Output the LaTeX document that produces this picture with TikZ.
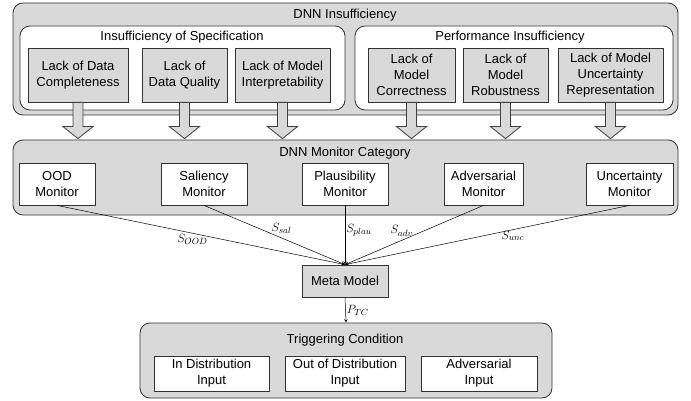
\documentclass[tikz,border=0pt]{standalone}
\usepackage{fontspec}
\setmainfont{Liberation Sans}
\usetikzlibrary{calc}

% block arrow from node #1 down to the top of node #2
\newcommand{\dnnarrow}[2]{%
  \draw[blkarr] ($(#1.south)+(-5,0)$) -- ($(#1.south |- #2.north)+(-5,-13)$) -- ++(-10,0)
    -- ($(#1.south |- #2.north)+(0,-1)$) -- ($(#1.south |- #2.north)+(15,-13)$) -- ++(-10,0)
    -- ($(#1.south)+(5,0)$) -- cycle;}

\tikzset{
  outerbox/.style={draw=black!80, fill=gray!30, rounded corners=10pt, line width=0.8pt, inner sep=0pt},
  innerbox/.style={draw=black!80, fill=white, rounded corners=10pt, line width=0.8pt, inner sep=0pt},
  graybox/.style={draw=black!80, fill=gray!30, line width=0.8pt, align=center, inner sep=0pt},
  whitebox/.style={draw=black!80, fill=white, line width=0.8pt, align=center, inner sep=0pt},
  title/.style={inner sep=1pt},
  blkarr/.style={draw=black!75, fill=gray!30, line width=0.8pt},
  sig/.style={->, >=stealth, line width=0.5pt},
  siglabel/.style={inner sep=1pt}
}

\begin{document}
\begin{tikzpicture}[x=1pt, y=-1pt, font=\fontsize{13}{16}\selectfont]
    \useasboundingbox (0,0) rectangle (691,401);

    % DNN Insufficiency
    \node[outerbox, minimum width=665pt, minimum height=112pt] (insuf) at (345.5,59) {};
    \node[title] (insuftitle) at (345,15) {DNN Insufficiency};
    \node[innerbox, minimum width=325pt, minimum height=84pt] (spec) at (182.5,68) {};
    \node[title] (spectitle) at (182,37) {Insufficiency of Specification};
    \node[innerbox, minimum width=318pt, minimum height=84pt] (perf) at (514,68) {};
    \node[title] (perftitle) at (510,37) {Performance Insufficiency};

    \node[graybox, minimum width=100pt, minimum height=54pt] (ldc) at (78,75) {Lack of Data\\Completeness};
    \node[graybox, minimum width=85pt, minimum height=54pt] (ldq) at (184.5,75) {Lack of\\Data Quality};
    \node[graybox, minimum width=95pt, minimum height=54pt] (lmi) at (282.5,75) {Lack of Model\\Interpretability};
    \node[graybox, minimum width=87pt, minimum height=54pt] (lmc) at (411.5,75) {Lack of\\Model\\Correctness};
    \node[graybox, minimum width=85pt, minimum height=54pt] (lmr) at (505.5,75) {Lack of\\Model\\Robustness};
    \node[graybox, minimum width=105pt, minimum height=54pt] (lmu) at (610.5,75) {Lack of Model\\Uncertainty\\Representation};

    % DNN Monitor Category
    \node[outerbox, minimum width=665pt, minimum height=75pt] (moncat) at (345.5,177.5) {};
    \node[title] (montitle) at (345,153) {DNN Monitor Category};
    \node[whitebox, minimum width=76pt, minimum height=42pt] (ood) at (57,184) {OOD\\Monitor};
    \node[whitebox, minimum width=86pt, minimum height=42pt] (sal) at (204,184) {Saliency\\Monitor};
    \node[whitebox, minimum width=86pt, minimum height=42pt] (plau) at (345,184) {Plausibility\\Monitor};
    \node[whitebox, minimum width=79pt, minimum height=42pt] (adv) at (483.5,184) {Adversarial\\Monitor};
    \node[whitebox, minimum width=87pt, minimum height=42pt] (unc) at (629.5,184) {Uncertainty\\Monitor};

    % Block arrows
    \dnnarrow{ldc}{moncat}
    \dnnarrow{ldq}{moncat}
    \dnnarrow{lmi}{moncat}
    \dnnarrow{lmc}{moncat}
    \dnnarrow{lmr}{moncat}
    \dnnarrow{lmu}{moncat}

    % Meta model
    \node[graybox, minimum width=86pt, minimum height=32pt] (meta) at (345,281) {Meta Model};

    \draw[sig] (ood.south) -- (meta.north) node[siglabel, pos=0.47, below] {$S_{OOD}$};
    \draw[sig] (sal.south) -- (meta.north) node[siglabel, pos=0.55, above=3pt] {$S_{sal}$};
    \draw[sig] (plau.south) -- (meta.north) node[siglabel, pos=0.42, right] {$S_{plau}$};
    \draw[sig] (adv.south) -- (meta.north) node[siglabel, pos=0.59, above=3pt] {$S_{adv}$};
    \draw[sig] (unc.south) -- (meta.north) node[siglabel, pos=0.41, below] {$S_{unc}$};

    % Triggering Condition
    \node[outerbox, minimum width=412pt, minimum height=75pt] (trig) at (346,360.5) {};
    \node[title] (trigtitle) at (345,340) {Triggering Condition};
    \node[whitebox, minimum width=115pt, minimum height=35pt] (ind) at (211.5,373.5) {In Distribution\\Input};
    \node[whitebox, minimum width=120pt, minimum height=35pt] (outd) at (345,373.5) {Out of Distribution\\Input};
    \node[whitebox, minimum width=116pt, minimum height=35pt] (advin) at (479,373.5) {Adversarial\\Input};

    \draw[sig] (meta.south) -- (trig.north) node[siglabel, midway, right] {$P_{TC}$};
\end{tikzpicture}
\end{document}
